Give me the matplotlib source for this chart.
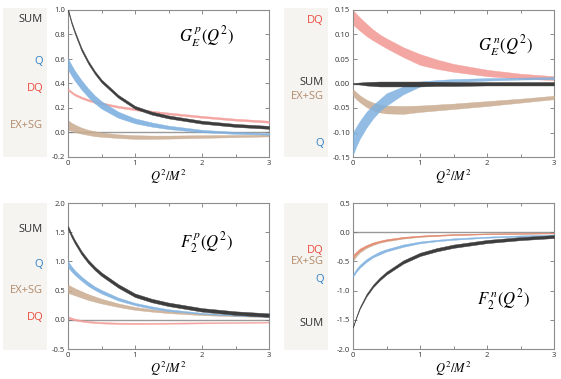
import numpy as np
import matplotlib
matplotlib.use("Agg")
import matplotlib.pyplot as plt
from matplotlib.transforms import blended_transform_factory
from matplotlib.ticker import MultipleLocator, FormatStrFormatter

plt.rcParams['font.family'] = ['Open Sans', 'DejaVu Sans']
plt.rcParams['mathtext.fontset'] = 'stix'

# ---------------- data ----------------
x = [0, 0.05, 0.1, 0.2, 0.3, 0.4, 0.5, 0.75, 1.0, 1.25, 1.5, 2.0, 2.5, 3.0]

# G_E^p
gep_sum = [1.00, 0.90, 0.82, 0.68, 0.575, 0.49, 0.42, 0.295, 0.205, 0.158, 0.127, 0.084, 0.058, 0.042]
gep_sum_hw = [0.009, 0.01, 0.011, 0.012, 0.012, 0.012, 0.012, 0.012, 0.012, 0.012, 0.012, 0.012, 0.012, 0.012]
gep_q = [0.56, 0.51, 0.465, 0.39, 0.325, 0.27, 0.225, 0.145, 0.095, 0.065, 0.042, 0.012, -0.003, -0.012]
gep_q_hw = [0.045, 0.043, 0.041, 0.038, 0.035, 0.032, 0.03, 0.025, 0.02, 0.017, 0.014, 0.01, 0.008, 0.006]
gep_dq = [0.35, 0.33, 0.31, 0.285, 0.265, 0.25, 0.238, 0.21, 0.19, 0.17, 0.155, 0.128, 0.105, 0.088]
gep_dq_hw = [0.008] * 14
gep_ex_hi = [0.10, 0.08, 0.065, 0.04, 0.022, 0.01, 0.0, -0.015, -0.022, -0.025, -0.025, -0.022, -0.02, -0.018]
gep_ex_lo = [0.02, 0.015, 0.005, -0.01, -0.02, -0.03, -0.035, -0.045, -0.052, -0.052, -0.05, -0.044, -0.038, -0.032]

# G_E^n
gen_dq_hi = [0.15, 0.142, 0.135, 0.122, 0.11, 0.10, 0.092, 0.074, 0.06, 0.049, 0.04, 0.028, 0.02, 0.015]
gen_dq_lo = [0.12, 0.114, 0.108, 0.097, 0.088, 0.08, 0.072, 0.054, 0.038, 0.03, 0.024, 0.015, 0.01, 0.007]
gen_sum_hi = [0.001, 0.0015, 0.002, 0.003, 0.0035, 0.004, 0.004, 0.004, 0.004, 0.0035, 0.003, 0.003, 0.003, 0.003]
gen_sum_lo = [-0.001, -0.0015, -0.002, -0.004, -0.005, -0.006, -0.006, -0.006, -0.006, -0.005, -0.005, -0.004, -0.004, -0.004]
gen_q_hi = [-0.10, -0.088, -0.077, -0.058, -0.044, -0.032, -0.02, -0.006, 0.004, 0.007, 0.009, 0.011, 0.012, 0.013]
gen_q_lo = [-0.145, -0.128, -0.113, -0.09, -0.071, -0.056, -0.045, -0.022, -0.006, 0.0, 0.003, 0.006, 0.008, 0.009]
gen_ex_hi = [-0.012, -0.018, -0.024, -0.033, -0.039, -0.043, -0.045, -0.046, -0.045, -0.043, -0.041, -0.036, -0.031, -0.025]
gen_ex_lo = [-0.025, -0.032, -0.038, -0.048, -0.055, -0.059, -0.061, -0.062, -0.058, -0.055, -0.052, -0.046, -0.039, -0.032]

# F_2^p
f2p_sum = [1.58, 1.45, 1.34, 1.15, 1.0, 0.88, 0.78, 0.58, 0.42, 0.33, 0.265, 0.17, 0.115, 0.08]
f2p_sum_hw = [0.03] * 14
f2p_q_hi = [1.0, 0.92, 0.85, 0.74, 0.65, 0.57, 0.51, 0.38, 0.29, 0.23, 0.18, 0.12, 0.085, 0.065]
f2p_q_lo = [0.9, 0.83, 0.77, 0.67, 0.58, 0.51, 0.45, 0.33, 0.25, 0.19, 0.15, 0.10, 0.07, 0.05]
f2p_ex_hi = [0.6, 0.57, 0.54, 0.49, 0.44, 0.40, 0.36, 0.28, 0.22, 0.18, 0.15, 0.105, 0.08, 0.06]
f2p_ex_lo = [0.46, 0.44, 0.42, 0.38, 0.34, 0.31, 0.28, 0.22, 0.17, 0.14, 0.115, 0.08, 0.06, 0.045]
f2p_dq_hi = [0.06, 0.04, 0.02, -0.005, -0.02, -0.03, -0.038, -0.048, -0.05, -0.05, -0.048, -0.043, -0.038, -0.033]
f2p_dq_lo = [0.02, 0.005, -0.01, -0.03, -0.045, -0.055, -0.062, -0.072, -0.074, -0.072, -0.068, -0.062, -0.055, -0.048]

# F_2^n
f2n_sum = [-1.62, -1.45, -1.3, -1.08, -0.92, -0.8, -0.7, -0.51, -0.38, -0.30, -0.24, -0.16, -0.11, -0.075]
f2n_sum_hw = [0.008, 0.012, 0.015, 0.02, 0.022, 0.024, 0.025, 0.027, 0.028, 0.028, 0.028, 0.027, 0.026, 0.025]
f2n_q_hi = [-0.72, -0.63, -0.56, -0.46, -0.39, -0.33, -0.29, -0.21, -0.16, -0.13, -0.105, -0.075, -0.055, -0.04]
f2n_q_lo = [-0.76, -0.68, -0.61, -0.51, -0.43, -0.38, -0.33, -0.25, -0.19, -0.155, -0.13, -0.095, -0.075, -0.06]
f2n_ex_hi = [-0.42, -0.35, -0.30, -0.23, -0.18, -0.15, -0.125, -0.085, -0.06, -0.045, -0.035, -0.02, -0.015, -0.01]
f2n_ex_lo = [-0.49, -0.41, -0.35, -0.27, -0.22, -0.18, -0.155, -0.11, -0.08, -0.065, -0.05, -0.035, -0.028, -0.02]
f2n_dq_hi = [-0.39, -0.33, -0.28, -0.22, -0.175, -0.145, -0.12, -0.08, -0.058, -0.044, -0.034, -0.022, -0.015, -0.01]
f2n_dq_lo = [-0.43, -0.37, -0.32, -0.25, -0.205, -0.17, -0.145, -0.10, -0.075, -0.06, -0.048, -0.034, -0.026, -0.02]

# labels
titles = [r'$G_E^{\,p}(Q^2)$', r'$G_E^{\,n}(Q^2)$', r'$F_2^{\,p}(Q^2)$', r'$F_2^{\,n}(Q^2)$']
xlabel = r'$Q^2/M^2$'
side_labels = [
    [('SUM', 0.92), ('Q', 0.58), ('DQ', 0.36), ('EX+SG', 0.06)],
    [('DQ', 0.129), ('SUM', 0.003), ('EX+SG', -0.027), ('Q', -0.122)],
    [('SUM', 1.55), ('Q', 0.955), ('EX+SG', 0.51), ('DQ', 0.04)],
    [('DQ', -0.31), ('EX+SG', -0.51), ('Q', -0.81), ('SUM', -1.57)],
]

# ---------------- styling ----------------
C_SUM = '#3d3d3d'
C_Q = '#7fb1df'
C_DQ = '#f39d98'
C_DQ4 = '#e9876e'
C_EX = '#c9ab8f'
T_COL = {'SUM': '#333333', 'Q': '#2f80c6', 'DQ': '#ea4a3e', 'EX+SG': '#b1896a'}

W, H = 561, 379
fig = plt.figure(figsize=(W / 100, H / 100), dpi=100)

def fx(px):
    return px / W

def fy(py):
    return 1 - py / H

ax_rects = [
    (68, 10, 269, 157),
    (353, 10, 554, 157),
    (68, 203, 269, 349),
    (353, 203, 554, 349),
]
box_rects = [
    (3, 8, 47, 157),
    (284, 8, 328, 157),
    (3, 203, 47, 350),
    (284, 203, 328, 350),
]
label_x = [43, 324, 43, 324]
ylims = [(-0.2, 1.0), (-0.15, 0.15), (-0.5, 2.0), (-2.0, 0.5)]
ysteps = [0.2, 0.05, 0.5, 0.5]
yfmts = ['%.1f', '%.2f', '%.1f', '%.1f']
title_pos = [(0.69, 0.816), (0.756, 0.76), (0.69, 0.73), (0.75, 0.336)]

axes = []
for i in range(4):
    bx0, by0, bx1, by1 = box_rects[i]
    bax = fig.add_axes([fx(bx0), fy(by1), fx(bx1 - bx0), (by1 - by0) / H])
    bax.set_facecolor('#f6f4f0')
    bax.set_xticks([]); bax.set_yticks([])
    for s in bax.spines.values():
        s.set_visible(False)

    x0, y0, x1, y1 = ax_rects[i]
    ax = fig.add_axes([fx(x0), fy(y1), fx(x1 - x0), (y1 - y0) / H])
    axes.append(ax)
    ax.set_xlim(0, 3)
    ax.set_ylim(*ylims[i])
    ax.xaxis.set_major_locator(MultipleLocator(1))
    ax.xaxis.set_minor_locator(MultipleLocator(0.5))
    ax.yaxis.set_major_locator(MultipleLocator(ysteps[i]))
    ax.yaxis.set_major_formatter(FormatStrFormatter(yfmts[i]))
    ax.xaxis.set_major_formatter(FormatStrFormatter('%d'))
    ax.tick_params(which='both', direction='in', top=True, right=True,
                   labelsize=5.5, labelcolor='#333333', color='#777777', width=0.6, pad=2)
    ax.tick_params(which='major', length=3)
    ax.tick_params(which='minor', length=2, left=False)
    for s in ax.spines.values():
        s.set_color('#8c8c8c')
        s.set_linewidth(0.8)
    ax.axhline(0, color='#9a9a9a', lw=1.0, zorder=1)
    ax.set_xlabel(xlabel, fontsize=9, labelpad=1)
    ax.text(*title_pos[i], titles[i], transform=ax.transAxes, fontsize=12,
            ha='center', va='center')
    tr = blended_transform_factory(fig.transFigure, ax.transData)
    for name, yv in side_labels[i]:
        ax.text(fx(label_x[i]), yv, name, transform=tr, ha='right', va='center',
                fontsize=8, color=T_COL[name], clip_on=False)

xa = np.array(x)

def band(ax, lo, hi, color, z, alpha=0.9):
    ax.fill_between(xa, lo, hi, color=color, lw=0.3, ec=color, alpha=alpha, zorder=z)

def cband(ax, c, hw, color, z, alpha=0.9):
    c = np.array(c); hw = np.array(hw)
    band(ax, c - hw, c + hw, color, z, alpha)

# panel 1
ax = axes[0]
band(ax, gep_ex_lo, gep_ex_hi, C_EX, 2, 0.85)
cband(ax, gep_dq, gep_dq_hw, C_DQ, 3, 0.9)
cband(ax, gep_q, gep_q_hw, C_Q, 4, 0.9)
cband(ax, gep_sum, gep_sum_hw, C_SUM, 5, 1.0)

# panel 2
ax = axes[1]
band(ax, gen_dq_lo, gen_dq_hi, C_DQ, 2, 0.9)
band(ax, gen_ex_lo, gen_ex_hi, C_EX, 3, 0.85)
band(ax, gen_q_lo, gen_q_hi, C_Q, 4, 0.85)
band(ax, gen_sum_lo, gen_sum_hi, C_SUM, 5, 1.0)

# panel 3
ax = axes[2]
band(ax, f2p_dq_lo, f2p_dq_hi, C_DQ, 2, 0.9)
band(ax, f2p_ex_lo, f2p_ex_hi, C_EX, 3, 0.85)
band(ax, f2p_q_lo, f2p_q_hi, C_Q, 4, 0.9)
cband(ax, f2p_sum, f2p_sum_hw, C_SUM, 5, 1.0)

# panel 4
ax = axes[3]
band(ax, f2n_ex_lo, f2n_ex_hi, C_EX, 2, 0.85)
band(ax, f2n_dq_lo, f2n_dq_hi, C_DQ4, 3, 0.85)
band(ax, f2n_q_lo, f2n_q_hi, C_Q, 4, 0.9)
cband(ax, f2n_sum, f2n_sum_hw, C_SUM, 5, 1.0)

fig.savefig('out.png', dpi=100)
